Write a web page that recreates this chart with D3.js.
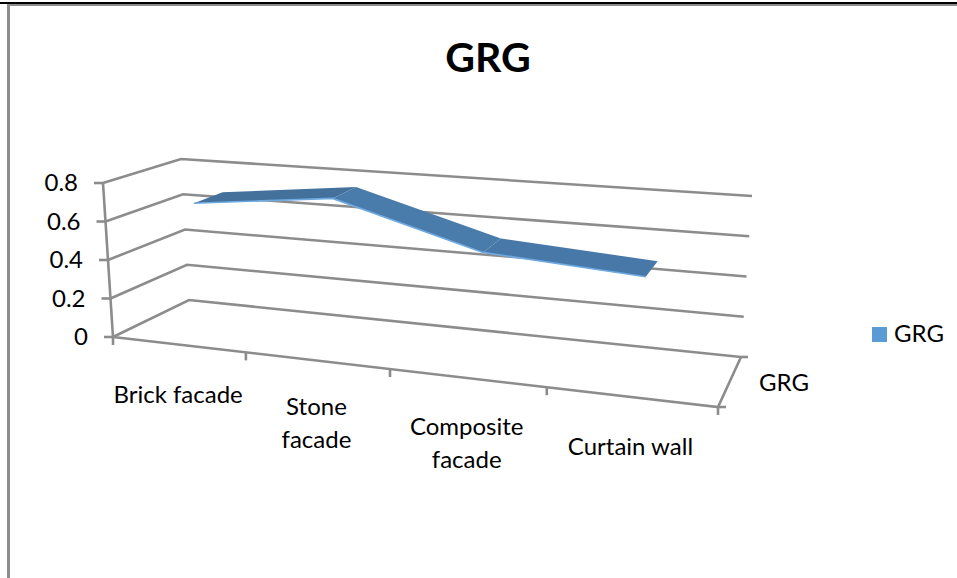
<!DOCTYPE html>
<html>
<head>
<meta charset="utf-8">
<script src="https://cdnjs.cloudflare.com/ajax/libs/d3/7.8.5/d3.min.js"></script>
<style>
    html, body { margin: 0; padding: 0; background: #fff; }
    svg { display: block; }
    text { font-family: Lato, "Open Sans", sans-serif; fill: #000; }
</style>
</head>
<body>
<div class="chart"></div>
<script>
const chartTitle = "GRG";
const categories = [["Brick facade"], ["Stone", "facade"], ["Composite", "facade"], ["Curtain wall"]];
const seriesName = "GRG";
const seriesValues = [0.68, 0.76, 0.55, 0.50];
const yTicks = [0, 0.2, 0.4, 0.6, 0.8];

const width = 957;
const height = 578;
const gray = "#8c8c8c";

const svg = d3.select(".chart").append("svg")
    .attr("width", width)
    .attr("height", height);

// page frame left over from the document the chart was pasted in
svg.append("rect").attr("x", 0).attr("y", 2).attr("width", width).attr("height", 2).attr("fill", "#000");
svg.append("rect").attr("x", 7).attr("y", 4).attr("width", width - 7).attr("height", 2).attr("fill", gray);
svg.append("rect").attr("x", 7).attr("y", 4).attr("width", 3).attr("height", height - 4).attr("fill", gray);

// fake 3d box: corners of the plot cube on screen
// names are front/back, bottom/top, left/right
const corners = {
    fbl: [113, 337], fbr: [718, 407], bbl: [189, 300], bbr: [741, 357],
    ftl: [103, 183], ftr: [731, 231], btl: [181, 159], btr: [752, 196]
};

const catScale = d3.scaleLinear().domain([0, categories.length]).range([0, 1]);
const valScale = d3.scaleLinear().domain([0, 0.8]).range([0, 1]);
const persp = 1.184; // left side of the floor is further away than it looks

const lerp = (a, b, t) => [a[0] + (b[0] - a[0]) * t, a[1] + (b[1] - a[1]) * t];

// cat = category position, val = value, depth 0 front .. 1 back
const project = (cat, val, depth) => {
    const c = catScale(cat);
    const s = c / (c + persp * (1 - c));
    const v = valScale(val);
    const front = lerp(lerp(corners.fbl, corners.fbr, s), lerp(corners.ftl, corners.ftr, s), v);
    const back = lerp(lerp(corners.bbl, corners.bbr, s), lerp(corners.btl, corners.btr, s), v);
    return lerp(front, back, depth);
};

const line = d3.line();

const drawLine = (pts, w = 2.6) => svg.append("path")
    .attr("d", line(pts))
    .attr("fill", "none")
    .attr("stroke", gray)
    .attr("stroke-width", w);

// gridlines on side wall and back wall
yTicks.forEach(t => {
    drawLine([project(0, t, 0), project(0, t, 1), project(categories.length, t, 1)]);
});

// floor and axes
drawLine([project(0, 0, 0), project(categories.length, 0, 0), project(categories.length, 0, 1)]);
drawLine([project(0, 0.8, 0), project(0, 0, 0)]);

// y ticks and labels
yTicks.forEach(t => {
    const p = project(0, t, 0);
    drawLine([[p[0] - 9, p[1]], p]);
    svg.append("text")
        .attr("x", p[0] - 25)
        .attr("y", p[1] + 8)
        .attr("text-anchor", "end")
        .style("font-size", "24px")
        .text(d3.format(t === 0 ? "d" : ".1f")(t));
});

// x ticks
d3.range(categories.length + 1).forEach(i => {
    const p = project(i, 0, 0);
    drawLine([p, [p[0], p[1] + 8]]);
});
const last = project(categories.length, 0, 1);
drawLine([last, [last[0] + 7, last[1]]]);
const lastFront = project(categories.length, 0, 0);
drawLine([lastFront, [lastFront[0] + 8, lastFront[1]]]);

// x labels, stone sits a bit higher than the rest in the original
const labelNudge = [1, -3, 0, 1];
categories.forEach((lines, i) => {
    const p = project(i + 0.5, 0, 0);
    lines.forEach((txt, j) => {
        svg.append("text")
            .attr("x", p[0])
            .attr("y", p[1] + 57 + labelNudge[i] + j * 33)
            .attr("text-anchor", "middle")
            .style("font-size", "24px")
            .text(txt);
    });
});

// depth axis label
svg.append("text").attr("x", 759).attr("y", 391).style("font-size", "24px").text(seriesName);

// the ribbon
const ribbonFront = 0.31;
const ribbonBack = 0.71;
const segColors = ["#44709c", "#4a7cab", "#4878a8"];
seriesValues.slice(1).forEach((val, i) => {
    const prev = seriesValues[i];
    svg.append("path")
        .attr("d", line([
            project(i + 0.5, prev, ribbonFront),
            project(i + 1.5, val, ribbonFront),
            project(i + 1.5, val, ribbonBack),
            project(i + 0.5, prev, ribbonBack)
        ]) + "Z")
        .attr("fill", segColors[i]);
});
svg.append("path")
    .attr("d", line(seriesValues.map((val, i) => project(i + 0.5, val, ribbonFront))))
    .attr("fill", "none")
    .attr("stroke", "#6ea9e0")
    .attr("stroke-width", 1.6);

// legend
svg.append("rect").attr("x", 872).attr("y", 327).attr("width", 15).attr("height", 15).attr("fill", "#5b9bd5");
svg.append("text").attr("x", 894).attr("y", 342).style("font-size", "24px").text(seriesName);

// title
svg.append("text")
    .attr("x", 488)
    .attr("y", 72)
    .attr("text-anchor", "middle")
    .style("font-size", "41px")
    .style("font-weight", "bold")
    .text(chartTitle);
</script>
</body>
</html>
